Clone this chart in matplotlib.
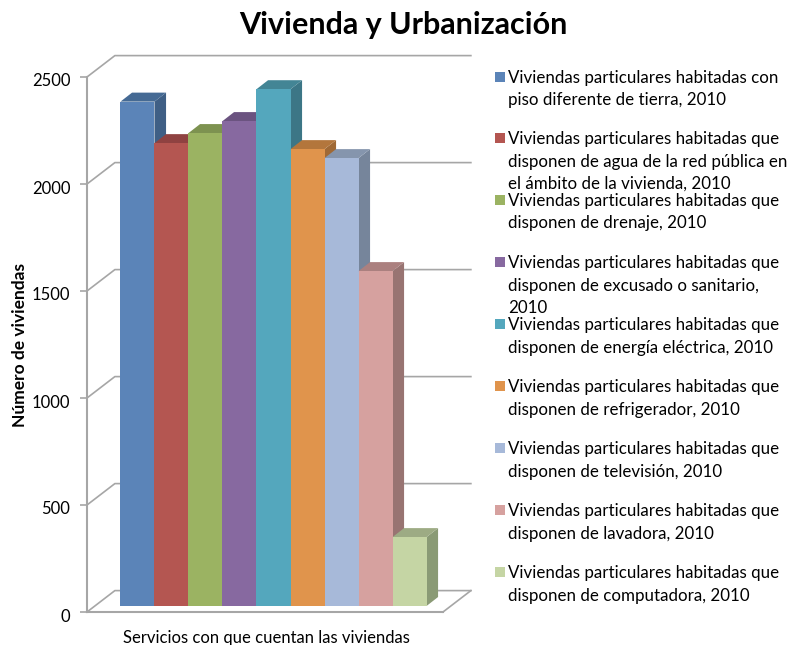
import matplotlib
matplotlib.use("Agg")
import matplotlib.pyplot as plt
from matplotlib.patches import Polygon, Rectangle
from matplotlib.transforms import ScaledTranslation

W, H = 791, 645

plt.rcParams['font.family'] = ['Lato', 'DejaVu Sans']

values = [2357, 2163, 2210, 2266, 2415, 2135, 2093, 1565, 322]
front_colors = ["#5b84b8", "#b45651", "#9bb362", "#8769a0", "#54a7bd",
                "#e0944c", "#a7b9d9", "#d6a19f", "#c5d5a4"]
top_colors = ["#456a94", "#8f4241", "#7d9250", "#6b5380", "#438595",
              "#b3763c", "#8595ad", "#ab807f", "#9dab84"]
side_colors = ["#3f5f85", "#803a3a", "#708248", "#5f4a72", "#3c7686",
               "#a06935", "#76859b", "#987472", "#8a9a75"]
legend_labels = [
    "Viviendas particulares habitadas con\npiso diferente de tierra, 2010",
    "Viviendas particulares habitadas que\ndisponen de agua de la red pública en\nel ámbito de la vivienda, 2010",
    "Viviendas particulares habitadas que\ndisponen de drenaje, 2010",
    "Viviendas particulares habitadas que\ndisponen de excusado o sanitario,\n2010",
    "Viviendas particulares habitadas que\ndisponen de energía eléctrica, 2010",
    "Viviendas particulares habitadas que\ndisponen de refrigerador, 2010",
    "Viviendas particulares habitadas que\ndisponen de televisión, 2010",
    "Viviendas particulares habitadas que\ndisponen de lavadora, 2010",
    "Viviendas particulares habitadas que\ndisponen de computadora, 2010",
]
legend_tops = [67, 128, 190, 252, 314, 376, 438, 500, 562]
yticks = [0, 500, 1000, 1500, 2000, 2500]

fig = plt.figure(figsize=(W / 100, H / 100), dpi=100)
ax = fig.add_axes([87 / W, 1 - 612 / H, (443 - 87) / W, (612 - 77) / H])
ax.set_xlim(-1.485, 8.985)
ax.set_ylim(0, 2500)

grid = "#a6a6a6"
wall_dx, wall_dy = 0.82, 100
bar_dx, bar_dy = 0.34, 42
bar_base = 28

# back wall and floor
right = 8.985 + wall_dx
left = -1.485
for t in yticks:
    ax.plot([left, left + wall_dx, right], [t, t + wall_dy, t + wall_dy],
            color=grid, lw=1.2, clip_on=False, zorder=1)
ax.plot([8.985, right], [0, wall_dy], color=grid, lw=1.2, clip_on=False, zorder=1)

for i, v in enumerate(values):
    x0, x1 = i - 0.5, i + 0.5
    y0, y1 = bar_base, bar_base + v
    ax.add_patch(Polygon([(x1, y0), (x1 + bar_dx, y0 + bar_dy), (x1 + bar_dx, y1 + bar_dy), (x1, y1)],
                         fc=side_colors[i], ec="none", clip_on=False, zorder=3))
    ax.add_patch(Polygon([(x0, y1), (x0 + bar_dx, y1 + bar_dy), (x1 + bar_dx, y1 + bar_dy), (x1, y1)],
                         fc=top_colors[i], ec="none", clip_on=False, zorder=3))
    ax.add_patch(Rectangle((x0, y0), 1, v, fc=front_colors[i], ec="none", clip_on=False, zorder=3))

for s in ["top", "right"]:
    ax.spines[s].set_visible(False)
for s in ["left", "bottom"]:
    ax.spines[s].set_color(grid)
    ax.spines[s].set_linewidth(1.5)
ax.set_xticks([])
ax.set_yticks(yticks)
ax.tick_params(axis="y", color=grid, length=5, width=1.2, labelsize=12, pad=7)
ax.patch.set_alpha(0)
# tick labels sit a little below their ticks
shift = ScaledTranslation(0, -3 / 100, fig.dpi_scale_trans)
for lab in ax.get_yticklabels():
    lab.set_transform(lab.get_transform() + shift)

fig.text(403 / W, 1 - 25 / H, "Vivienda y Urbanización", fontsize=22, fontweight="bold",
         ha="center", va="center")
fig.text(20 / W, 1 - 345 / H, "Número de viviendas", fontsize=12.5, fontweight="bold",
         rotation=90, ha="center", va="center")
fig.text(266 / W, 1 - 638 / H, "Servicios con que cuentan las viviendas", fontsize=12,
         ha="center", va="center")

for label, top, c in zip(legend_labels, legend_tops, front_colors):
    fig.patches.append(Rectangle((495 / W, 1 - (top + 15) / H), 10 / W, 10 / H, fc=c, ec="none",
                                 transform=fig.transFigure))
    fig.text(508 / W, 1 - (top + 3) / H, label, fontsize=12.2, va="top", ha="left", linespacing=1.5)

fig.savefig("out.png", dpi=100)
